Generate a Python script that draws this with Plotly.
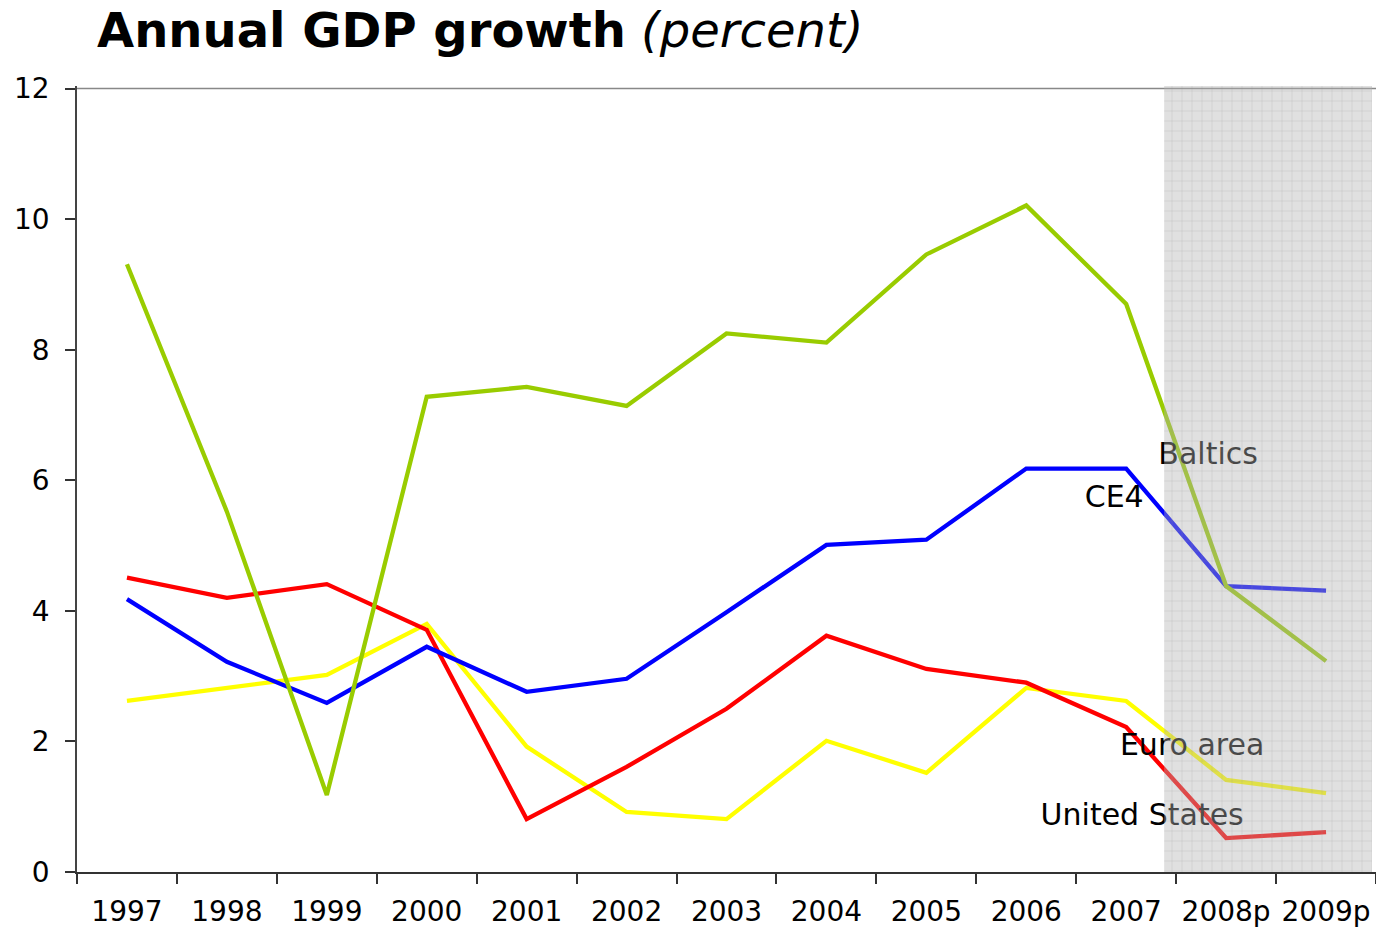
import plotly.graph_objects as go

years = ["1997", "1998", "1999", "2000", "2001", "2002", "2003", "2004",
         "2005", "2006", "2007", "2008p", "2009p"]

baltics = [9.31, 5.52, 1.18, 7.28, 7.43, 7.14, 8.25, 8.11, 9.46, 10.21, 8.70, 4.38, 3.23]
ce4 = [4.18, 3.22, 2.59, 3.45, 2.76, 2.96, 3.98, 5.01, 5.09, 6.18, 6.18, 4.38, 4.31]
united_states = [4.51, 4.20, 4.41, 3.71, 0.81, 1.61, 2.50, 3.62, 3.11, 2.90, 2.22, 0.52, 0.61]
euro_area = [2.62, 2.82, 3.02, 3.80, 1.92, 0.92, 0.81, 2.01, 1.52, 2.82, 2.62, 1.41, 1.21]

series_names = ["Baltics", "CE4", "Euro area", "United States"]
y_ticks = [0, 2, 4, 6, 8, 10, 12]

# styling / placement (not data)
colors = {"Baltics": "#99cc00", "CE4": "#0000ff", "Euro area": "#ffff00", "United States": "#ff0000"}
label_pos = {"Baltics": (10.82, 6.36), "CE4": (9.88, 5.70),
             "Euro area": (10.66, 1.90), "United States": (10.16, 0.83)}
shade_x = (10.38, 12.46)
shade_y = (0, 12.04)

FONT = "DejaVu Sans, Verdana, sans-serif"

fig = go.Figure()
data = {"Baltics": baltics, "CE4": ce4, "Euro area": euro_area, "United States": united_states}
for name in ["Euro area", "United States", "CE4", "Baltics"]:
    fig.add_trace(go.Scatter(x=years, y=data[name], mode="lines", name=name,
                             line=dict(color=colors[name], width=4.3),
                             xaxis="x", yaxis="y", showlegend=False, hoverinfo="skip"))

# labels (under the shading)
fig.add_trace(go.Scatter(
    x=[label_pos[n][0] for n in series_names],
    y=[label_pos[n][1] for n in series_names],
    text=series_names, mode="text", textposition="middle center",
    textfont=dict(family=FONT, size=30, color="#000000"),
    xaxis="x2", yaxis="y", showlegend=False, hoverinfo="skip"))

# shaded forecast region
fig.add_trace(go.Scatter(
    x=[shade_x[0], shade_x[1], shade_x[1], shade_x[0], shade_x[0]],
    y=[shade_y[0], shade_y[0], shade_y[1], shade_y[1], shade_y[0]],
    mode="lines", line=dict(width=0), fill="toself",
    fillcolor="rgba(177,177,177,0.4)",
    fillpattern=dict(shape="+", size=10, solidity=0.1,
                     bgcolor="rgba(177,177,177,0.4)",
                     fgcolor="rgba(140,140,140,0.35)", fillmode="replace"),
    xaxis="x2", yaxis="y", showlegend=False, hoverinfo="skip"))

fig.update_layout(
    width=1376, height=929,
    margin=dict(l=77, r=0, t=86, b=57),
    paper_bgcolor="white", plot_bgcolor="white",
    font=dict(family=FONT, size=28, color="#000000"),
    title=dict(text="<b>Annual GDP growth</b> <i>(percent)</i>",
               x=97 / 1376, xanchor="left", xref="container",
               y=1 - 30 / 929, yanchor="middle", yref="container",
               font=dict(family=FONT, size=48, color="#000000")),
    xaxis=dict(type="category", categoryarray=years, range=[-0.5, 12.5],
               showgrid=False, zeroline=False,
               showline=True, linecolor="#333333", linewidth=1.5,
               ticks="outside", tickson="boundaries", ticklen=10, tickcolor="#333333",
               tickwidth=1.5, ticklabelstandoff=14,
               tickfont=dict(family=FONT, size=28, color="#000000")),
    xaxis2=dict(overlaying="x", range=[-0.5, 12.5], visible=False),
    yaxis=dict(range=[0, 12.04], tickvals=y_ticks, showgrid=False, zeroline=False,
               showline=True, linecolor="#444444", linewidth=1.5,
               ticks="outside", ticklen=10, tickcolor="#333333", tickwidth=1.5,
               ticklabelstandoff=10,
               tickfont=dict(family=FONT, size=28, color="#000000")),
    shapes=[dict(type="line", xref="paper", yref="y", x0=0, x1=1, y0=12, y1=12,
                 line=dict(color="#888888", width=1.5), layer="below")],
)

fig.write_html("out.html", config={"displayModeBar": False},
               post_script="document.body.style.margin='0';")
